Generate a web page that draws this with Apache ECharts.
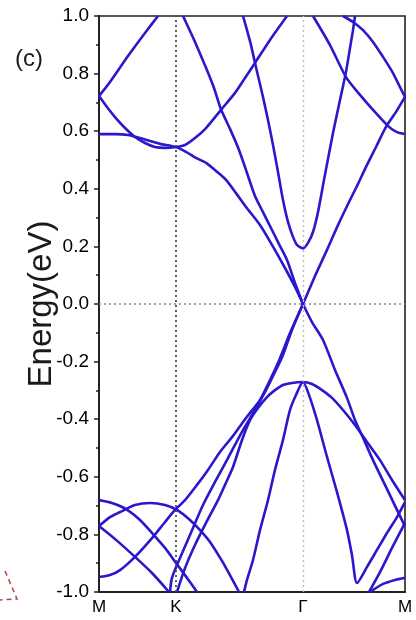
<!DOCTYPE html>
<html>
<head>
<meta charset="utf-8">
<title>Band structure (c)</title>
<script src="https://cdn.jsdelivr.net/npm/echarts@6.0.0/dist/echarts.min.js"></script>
<style>
  html, body { margin: 0; padding: 0; background: #fff; }
  #chart { width: 416px; height: 620px; }
</style>
</head>
<body>
<div id="chart"></div>
<script>
// k path positions of the high symmetry points and their labels
const kTicks = [0, 77, 204, 306]
const kLabels = ['M', 'K', 'Γ', 'M']

// bands, [k, energy(eV)]
const band1 = [[0,0.722],[11,0.771],[29,0.861],[46,0.941],[59,1.0]]
const band2 = [[0,0.722],[8,0.684],[16,0.649],[26,0.611],[36,0.580],[46,0.559],[56,0.545],[66,0.542],[77,0.545],[86,0.552],[96,0.576],[107,0.611],[122,0.674],[136,0.733],[146,0.785],[156,0.837],[171,0.917],[188,1.0]]
const band3 = [[0,0.590],[16,0.590],[29,0.587],[41,0.576],[51,0.566],[61,0.556],[77,0.545],[87,0.528],[97,0.507],[107,0.490],[117,0.462],[127,0.431],[137,0.385],[147,0.337],[161,0.274],[173,0.205],[186,0.125],[195,0.066],[204,0.0]]
const band4 = [[84,1.0],[96,0.91],[107,0.82],[115,0.75],[122,0.676],[131,0.608],[140,0.535],[148,0.455],[156,0.375],[164,0.319],[172,0.264],[180,0.208],[188,0.153],[196,0.073],[204,0.0]]
// conduction band parabola at Γ
const band5 = [[144,1.0],[148,0.951],[152,0.899],[156,0.837],[160,0.778],[164,0.719],[169,0.639],[174,0.552],[179,0.458],[184,0.361],[189,0.285],[194,0.233],[198,0.205],[204,0.193],[209,0.212],[214,0.25],[219,0.319],[225,0.431],[234,0.594],[241,0.708],[247,0.806],[251,0.889],[254,0.951],[256,1.0]]
const band6 = [[214,1.0],[231,0.899],[247,0.788],[261,0.726],[274,0.674],[290,0.615],[298,0.597],[306,0.590]]
const band7 = [[244,1.0],[254,0.979],[264,0.951],[274,0.910],[284,0.858],[294,0.802],[301,0.753],[306,0.719]]
const band8 = [[204,0.0],[216,0.097],[228,0.188],[239,0.274],[251,0.361],[259,0.417],[267,0.476],[277,0.545],[287,0.615],[297,0.667],[306,0.719]]
// valence side
const band9 = [[204,0.0],[213,-0.063],[224,-0.125],[236,-0.229],[248,-0.326],[256,-0.403],[265,-0.472],[274,-0.542],[286,-0.628],[298,-0.715],[306,-0.771]]
const band10 = [[78,-1.0],[86,-0.917],[96,-0.837],[106,-0.767],[119,-0.681],[126,-0.628],[134,-0.566],[143,-0.472],[151,-0.403],[159,-0.361],[168,-0.323],[176,-0.299],[184,-0.281],[193,-0.274],[204,-0.271],[213,-0.278],[223,-0.299],[233,-0.326],[244,-0.368],[256,-0.420],[268,-0.479],[281,-0.542],[293,-0.611],[306,-0.681]]
const band11 = [[145,-1.0],[148,-0.958],[154,-0.889],[161,-0.785],[169,-0.681],[176,-0.576],[184,-0.472],[191,-0.368],[197,-0.316],[204,-0.271],[209,-0.306],[218,-0.403],[228,-0.531],[238,-0.653],[248,-0.785],[253,-0.872],[258,-0.969],[268,-0.913],[278,-0.854],[288,-0.795],[298,-0.740],[306,-0.688]]
const band12 = [[0,-0.948],[11,-0.941],[21,-0.924],[36,-0.878],[53,-0.813],[66,-0.757],[76,-0.715],[86,-0.681],[98,-0.628],[109,-0.576],[121,-0.514],[134,-0.458],[147,-0.396],[161,-0.333],[171,-0.264],[181,-0.188],[191,-0.101],[204,0.0]]
const band13 = [[71,-1.0],[73,-0.951],[81,-0.882],[91,-0.802],[104,-0.698],[116,-0.618],[129,-0.535],[143,-0.444],[156,-0.368],[167,-0.299],[176,-0.236],[184,-0.177],[193,-0.090],[204,0.0]]
const band14 = [[0,-0.681],[13,-0.691],[27,-0.712],[41,-0.75],[54,-0.799],[66,-0.847],[77,-0.899],[88,-0.951],[98,-1.0]]
const band15 = [[0,-0.771],[17,-0.819],[36,-0.878],[53,-0.934],[70,-1.0]]
const band16 = [[0,-0.771],[11,-0.740],[23,-0.719],[36,-0.698],[51,-0.691],[66,-0.698],[78,-0.715],[91,-0.75],[101,-0.785],[111,-0.826],[123,-0.892],[132,-0.948],[140,-1.0]]
const band17 = [[270,-1.0],[281,-0.931],[293,-0.847],[306,-0.760]]
const band18 = [[271,-1.0],[284,-0.972],[296,-0.958],[306,-0.951]]

const bands = [band1, band2, band3, band4, band5, band6, band7, band8, band9,
  band10, band11, band12, band13, band14, band15, band16, band17, band18]

const font = "'Liberation Sans', Arial, sans-serif"
const bandColor = '#2b18cc'

let chart = echarts.init(document.getElementById('chart'), null, { renderer: 'canvas' })

let series = bands.map(function (b) {
  return {
    type: 'line',
    data: b,
    showSymbol: false,
    symbol: 'none',
    smooth: 0.25,
    clip: true,
    lineStyle: { color: bandColor, width: 2.6 },
    z: 3
  }
})

// dotted guides at K, Γ and E = 0
series.push({
  type: 'line',
  data: [],
  markLine: {
    silent: true,
    symbol: ['none', 'none'],
    label: { show: false },
    animation: false,
    data: [
      { xAxis: kTicks[1], lineStyle: { color: '#444', type: [2, 3], width: 1.7 } },
      { xAxis: kTicks[2], lineStyle: { color: '#bbb', type: [2, 3], width: 1.4 } },
      { yAxis: 0, lineStyle: { color: '#888', type: [2, 3], width: 1.5 } }
    ]
  },
  z: 1
})

let option = {
  animation: false,
  backgroundColor: '#fff',
  title: {
    text: '(c)',
    left: 10,
    top: 42,
    textStyle: { fontFamily: font, fontSize: 24, fontWeight: 'normal', color: '#1a1a1a' }
  },
  grid: {
    left: 99, right: 11, top: 16, bottom: 28,
    show: true,
    borderColor: '#222',
    borderWidth: 1.6,
    backgroundColor: 'transparent'
  },
  xAxis: {
    type: 'value',
    min: 0,
    max: 306,
    splitLine: { show: false },
    axisLine: { show: true, onZero: false, lineStyle: { color: '#222', width: 2 } },
    axisTick: { show: false },
    axisLabel: {
      customValues: kTicks,
      formatter: function (v) { return kLabels[kTicks.indexOf(v)] },
      fontFamily: font,
      fontSize: 17,
      color: '#000',
      margin: 7,
      showMinLabel: true,
      showMaxLabel: true
    }
  },
  yAxis: {
    type: 'value',
    min: -1,
    max: 1,
    interval: 0.2,
    name: 'Energy(eV)',
    nameLocation: 'middle',
    nameGap: 41,
    nameMoveOverlap: false,
    nameTextStyle: { fontFamily: font, fontSize: 33, color: '#1a1a1a' },
    splitLine: { show: false },
    axisLine: { show: true, onZero: false, lineStyle: { color: '#222', width: 2 } },
    axisTick: { show: true, inside: false, length: 5, lineStyle: { color: '#222', width: 1.5 } },
    minorTick: { show: true, splitNumber: 2, length: 3, lineStyle: { color: '#222', width: 1.5 } },
    axisLabel: {
      formatter: function (v) { return (Math.abs(v) < 1e-9 ? 0 : v).toFixed(1) },
      fontFamily: font,
      fontSize: 19,
      color: '#000',
      margin: 10
    }
  },
  graphic: [
    {
      // corner of the neighbouring panel's dashed triangle
      type: 'polyline',
      shape: { points: [[5, 571], [17, 599], [0, 600]] },
      style: { stroke: '#b54444', lineWidth: 1.5, lineDash: [5, 4], fill: null }
    }
  ],
  series: series
}

chart.setOption(option)
</script>
</body>
</html>
